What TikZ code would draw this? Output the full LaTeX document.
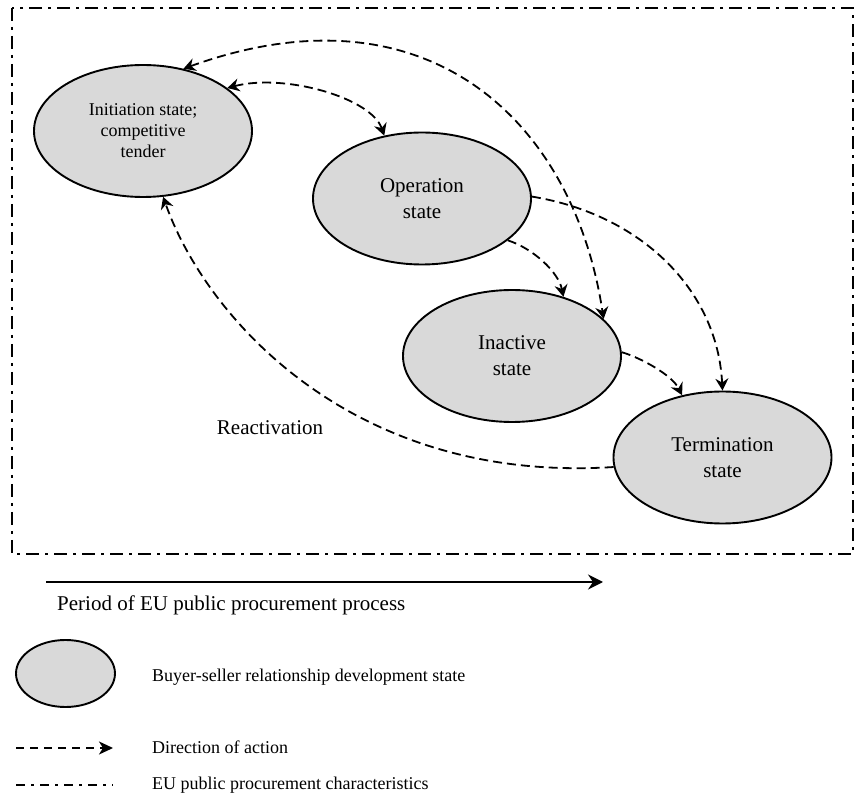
\documentclass[tikz,border=0pt]{standalone}
\usepackage{fontspec}
\setmainfont{Liberation Serif}
\usetikzlibrary{arrows.meta,shapes.geometric}
\definecolor{statefill}{RGB}{217,217,217}
\tikzset{
  mytip/.tip={Stealth[length=12pt,width=13pt,inset=4pt]},
  bigtip/.tip={Stealth[length=15pt,width=15pt,inset=5pt]},
}
\begin{document}
\begin{tikzpicture}[x=1pt,y=-1pt,
  statenode/.style={ellipse,draw,line width=1.9pt,fill=statefill,minimum width=218pt,minimum height=132pt,inner sep=0pt,align=center,font=\fontsize{21}{26}\selectfont},
  act/.style={line width=1.8pt,dash pattern=on 9pt off 5pt,-mytip},
  biact/.style={line width=1.8pt,dash pattern=on 9pt off 5pt,mytip-mytip},
  frameline/.style={line width=2.8pt,dash pattern=on 13pt off 6pt on 3pt off 6pt},
  lbl/.style={font=\fontsize{21}{26}\selectfont},
  legtext/.style={anchor=west,inner sep=0pt,font=\fontsize{18}{22}\selectfont}]
\useasboundingbox (0,0) rectangle (855,799);

% frame
\draw[frameline] (12,8) rectangle (853,554);

% states
\node[statenode,font=\fontsize{18}{21}\selectfont] (I) at (143,131) {Initiation state;\\competitive\\tender};
\node[statenode] (O) at (422,198.5) {Operation\\state};
\node[statenode] (N) at (512,356) {Inactive\\state};
\node[statenode] (T) at (722.5,457.5) {Termination\\state};

% connectors
\draw[biact] (I.57.6) .. controls +(244,-88) and +(-30,-198) .. (N.22.7);
\draw[biact] (I.27) .. controls +(57,-15) and +(-13,-38) .. (O.121);
\draw[act] (O.-26) .. controls +(25,8) and +(-5,-25) .. (N.49);
\draw[act] (O.1) .. controls +(110,18) and +(-5,-100) .. (T.90);
\draw[act] (N.2) .. controls +(20,6) and +(-10,-20) .. (T.123);
\draw[act] (T.185.5) .. controls +(-263,17) and +(42,119) .. (I.-73);

\node[lbl] (react) at (270,428) {Reactivation};

% time arrow
\coordinate (pa) at (46,582);
\coordinate (pb) at (603,582);
\draw[line width=1.9pt,-bigtip] (pa) -- (pb);
\node[lbl,anchor=west,inner sep=0pt] (period) at (57,605) {Period of EU public procurement process};

% legend
\node[ellipse,draw,line width=1.9pt,fill=statefill,minimum width=99pt,minimum height=67pt,inner sep=0pt] (legell) at (65.5,673.5) {};
\node[legtext] (legelltxt) at (152,677) {Buyer-seller relationship development state};

\coordinate (la) at (16,748);
\coordinate (lb) at (113,748);
\draw[line width=1.7pt,dash pattern=on 8pt off 6pt,-{Stealth[length=14pt,width=13pt,inset=4pt]}] (la) -- (lb);
\node[legtext] (legacttxt) at (152,747) {Direction of action};

\coordinate (lc) at (16,785);
\coordinate (ld) at (113,785);
\draw[line width=1.7pt,dash pattern=on 9pt off 6pt on 3pt off 6pt] (lc) -- (ld);
\node[legtext] (legfrtxt) at (152,785) {EU public procurement characteristics};
\end{tikzpicture}
\end{document}
